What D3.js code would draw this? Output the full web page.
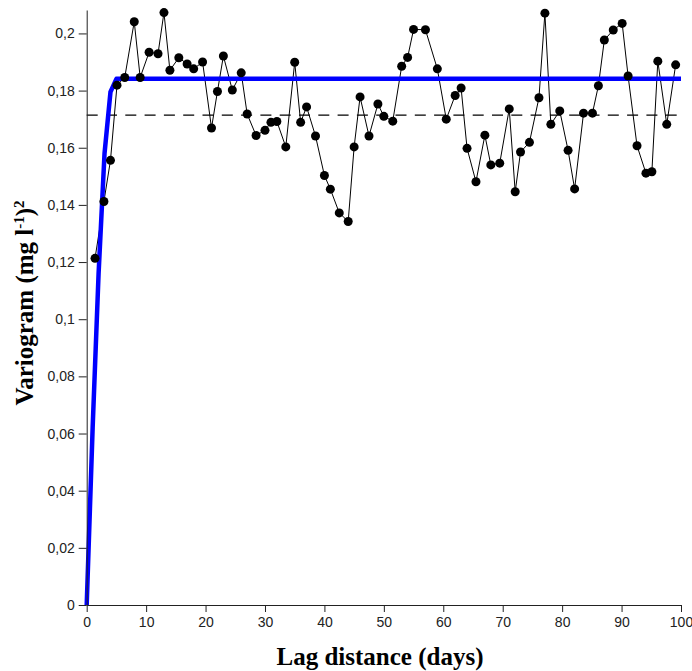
<!DOCTYPE html>
<html>
<head>
<meta charset="utf-8">
<script src="https://cdn.jsdelivr.net/npm/d3@7"></script>
<style>
  html, body { margin: 0; padding: 0; background: #fff; }
  svg { display: block; }
</style>
</head>
<body>
<svg id="chart" width="692" height="671"></svg>
<script>
// Experimental semivariogram (lag in days, gamma in (mg l-1)^2)
const lag = [1.4,2.9,4.0,5.1,6.4,8.0,9.0,10.5,12.0,13.0,14.0,15.5,16.9,18.0,19.5,21.0,22.0,23.0,24.5,26.0,
  27.0,28.5,30.0,31.0,32.0,33.5,35.0,36.0,37.0,38.5,40.0,41.0,42.5,44.0,45.0,46.0,47.5,49.0,50.0,51.5,
  53.0,54.0,55.0,57.0,59.0,60.5,62.0,63.0,64.0,65.5,67.0,68.0,69.5,71.1,72.1,73.0,74.5,76.1,77.1,78.1,
  79.6,81.0,82.1,83.6,85.1,86.1,87.1,88.6,90.1,91.1,92.6,94.1,95.1,96.1,97.6,99.1];
const gamma = [0.1213,0.1412,0.1556,0.1819,0.1846,0.2041,0.1846,0.1934,0.1929,0.2073,
  0.1871,0.1915,0.1893,0.1876,0.1900,0.1669,0.1797,0.1921,0.1802,0.1862,
  0.1718,0.1643,0.1661,0.1689,0.1692,0.1603,0.1899,0.1689,0.1743,0.1641,
  0.1503,0.1455,0.1372,0.1342,0.1603,0.1778,0.1641,0.1753,0.1710,0.1693,
  0.1885,0.1916,0.2014,0.2013,0.1876,0.1700,0.1783,0.1809,0.1598,0.1481,
  0.1644,0.1540,0.1546,0.1736,0.1446,0.1585,0.1619,0.1775,0.2071,0.1682,
  0.1729,0.1591,0.1456,0.1721,0.1721,0.1817,0.1977,0.2012,0.2035,0.1851,
  0.1607,0.1511,0.1516,0.1903,0.1682,0.1890];

// Fitted model line (vertices)
const modelLag = [0, 1, 2, 3, 4, 5, 100];
const modelGamma = [0, 0.062, 0.116, 0.158, 0.1795, 0.1841, 0.1841];

// Sample variance (dashed reference line)
const sampleVariance = 0.1714;

// Axis ticks
const xTicks = [0,10,20,30,40,50,60,70,80,90,100];
const yTicks = [0,0.02,0.04,0.06,0.08,0.1,0.12,0.14,0.16,0.18,0.2];

const xLabel = "Lag distance (days)";

const svg = d3.select("#chart");
const x = d3.scaleLinear().domain([0, 100]).range([86.7, 681]);
const y = d3.scaleLinear().domain([0, 0.2082]).range([605, 10]);

const fmt = v => String(+v.toFixed(2)).replace(".", ",");

// dashed sill line
svg.append("line")
  .attr("x1", x(0)).attr("x2", x(100))
  .attr("y1", y(sampleVariance)).attr("y2", y(sampleVariance))
  .attr("stroke", "#000").attr("stroke-width", 1.2)
  .attr("stroke-dasharray", "11,8.3");

// experimental line
const pts = lag.map((d, i) => [d, gamma[i]]);
svg.append("path")
  .datum(pts)
  .attr("fill", "none")
  .attr("stroke", "#000")
  .attr("stroke-width", 1)
  .attr("d", d3.line().x(d => x(d[0])).y(d => y(d[1])));

// model line
const mpts = modelLag.map((d, i) => [d, modelGamma[i]]);
svg.append("path")
  .datum(mpts)
  .attr("fill", "none")
  .attr("stroke", "#0000ff")
  .attr("stroke-width", 4.5)
  .attr("stroke-linejoin", "round")
  .attr("d", d3.line().x(d => x(d[0])).y(d => y(d[1])));

// points
svg.append("g").selectAll("circle")
  .data(pts).join("circle")
  .attr("cx", d => x(d[0])).attr("cy", d => y(d[1]))
  .attr("r", 4.5).attr("fill", "#000");

// axes
const xAxis = svg.append("g")
  .attr("transform", "translate(0,605)")
  .call(d3.axisBottom(x).tickValues(xTicks).tickFormat(d => String(d))
        .tickSize(7).tickSizeOuter(0).tickPadding(5));
const yAxis = svg.append("g")
  .attr("transform", "translate(86.7,0)")
  .call(d3.axisLeft(y).tickValues(yTicks).tickFormat(fmt)
        .tickSize(8).tickSizeOuter(0).tickPadding(4));

[xAxis, yAxis].forEach(g => {
  g.selectAll("path, line").attr("stroke", "#222").attr("stroke-width", 1);
  g.selectAll("text").attr("fill", "#222")
    .style("font-family", "'Liberation Sans', Arial, sans-serif")
    .style("font-size", "14px");
});

// x title
svg.append("text")
  .attr("x", 380).attr("y", 665)
  .attr("text-anchor", "middle")
  .style("font-family", "'Liberation Serif', 'Times New Roman', serif")
  .style("font-weight", "bold")
  .style("font-size", "25px")
  .attr("fill", "#000")
  .text(xLabel);

// y title with superscripts
const yt = svg.append("text")
  .attr("transform", "translate(33,303) rotate(-90)")
  .attr("text-anchor", "middle")
  .style("font-family", "'Liberation Serif', 'Times New Roman', serif")
  .style("font-weight", "bold")
  .style("font-size", "25px")
  .attr("fill", "#000");
yt.append("tspan").text("Variogram (mg l");
yt.append("tspan").attr("dy", -9).style("font-size", "15px").text("-1");
yt.append("tspan").attr("dy", 9).text(")");
yt.append("tspan").attr("dy", -9).style("font-size", "15px").text("2");
</script>
</body>
</html>
